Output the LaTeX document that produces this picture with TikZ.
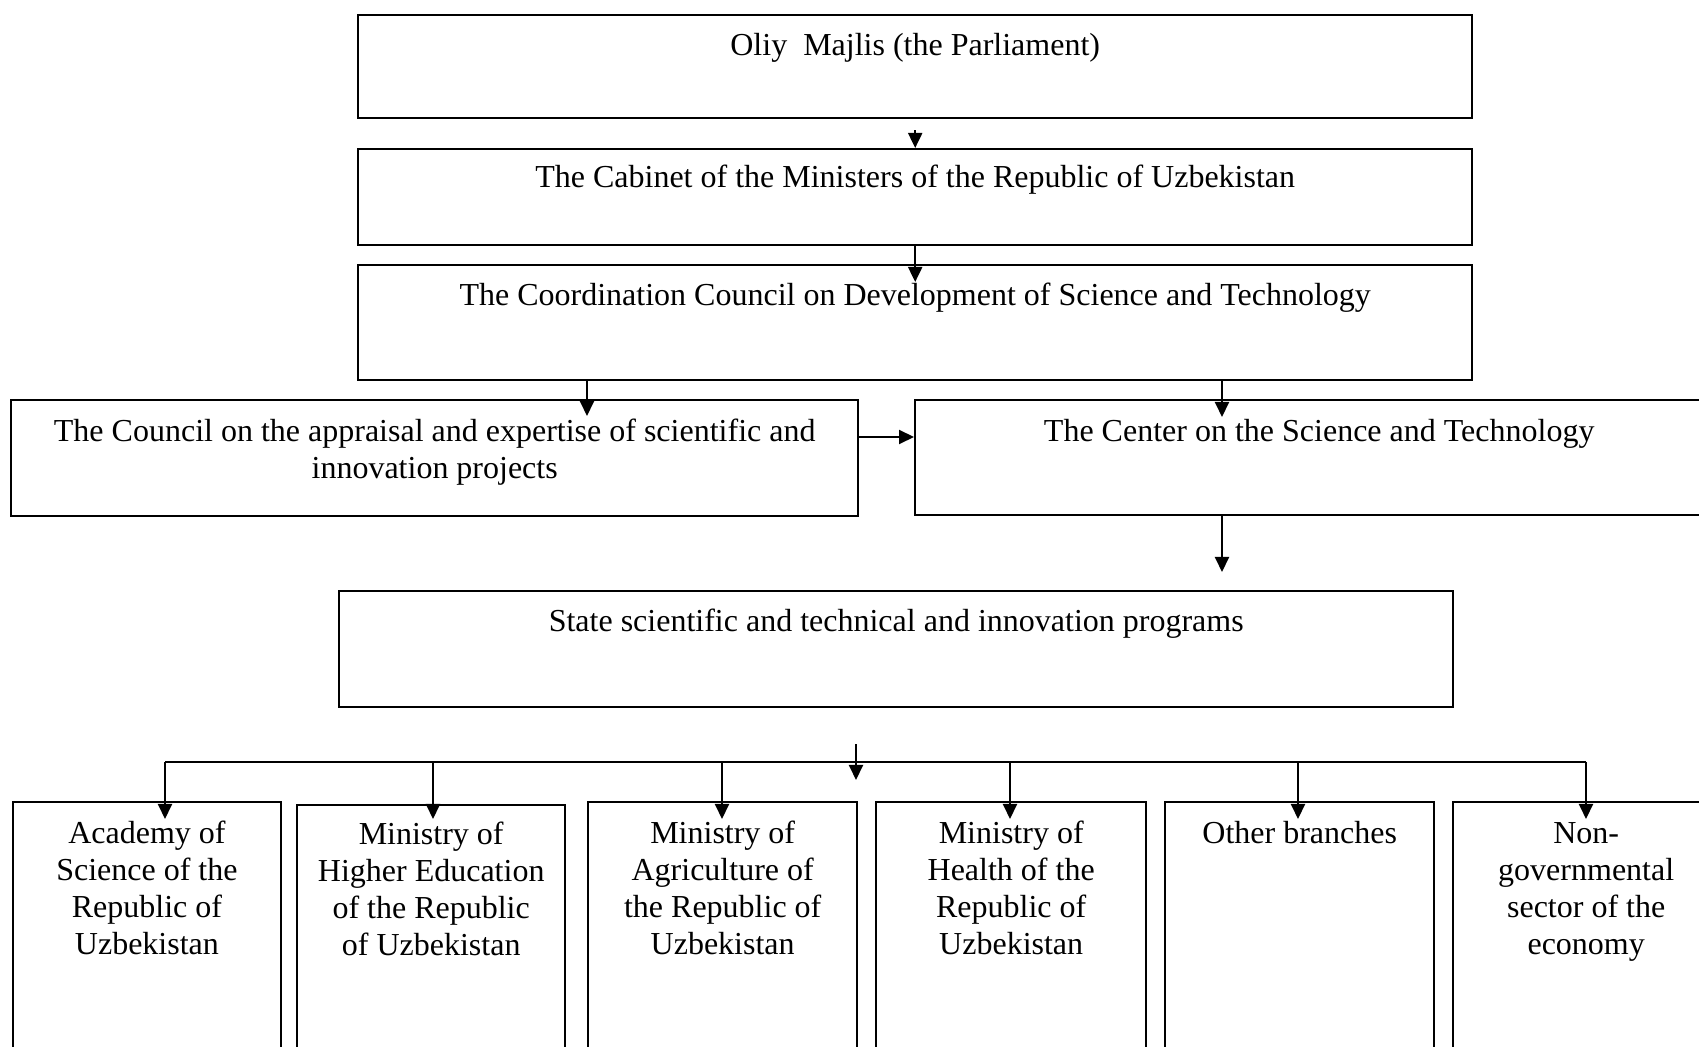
\documentclass[tikz,border=0pt]{standalone}
\usepackage{fontspec}
\setmainfont{Liberation Serif}
\usetikzlibrary{arrows.meta}

\tikzset{
  box/.style={draw, line width=1.2pt, inner sep=0pt, anchor=north west, align=center,
    font=\fontsize{16pt}{18.5pt}\selectfont, text height=20pt},
  leaf/.style={box, minimum width=134.5pt, text height=76pt, text depth=74pt},
  arr/.style={line width=1pt, -{Triangle[length=7.5pt,width=7pt]}},
  bus/.style={line width=1pt},
}

\begin{document}
\begin{tikzpicture}[x=0.5pt, y=-0.5pt]
\clip (0,0) rectangle (1699,1047);

\node[box, minimum width=557pt, text depth=31.5pt] (oliy) at (357,14) {Oliy~ Majlis (the Parliament)};
\node[box, minimum width=557pt, text height=19pt, text depth=29pt] (cab) at (357,148) {The Cabinet of the Ministers of the Republic of Uzbekistan};
\node[box, minimum width=557pt, text depth=37.5pt] (coord) at (357,264) {The Coordination Council on Development of Science and Technology};

\node[box, minimum width=423.5pt, text height=39pt, text depth=19pt] (council) at (10,399)
  {The Council on the appraisal and expertise of scientific and\\ innovation projects};
\node[box, minimum width=404pt, text height=20.5pt, text depth=37pt] (center) at (914,399)
  {The Center on the Science and Technology};

\node[box, minimum width=557pt, text depth=38pt] (state) at (338,590) {State scientific and technical and innovation programs};

\node[leaf, minimum width=134.25pt] (acad) at (11.5,801) {Academy of\\ Science of the\\ Republic of\\ Uzbekistan};
\node[leaf, minimum width=134pt, text height=75pt, text depth=75pt] (mhe) at (296,804) {Ministry of\\ Higher Education\\ of the Republic\\ of Uzbekistan};
\node[leaf] (agr) at (587,801) {Ministry of\\ Agriculture of\\ the Republic of\\ Uzbekistan};
\node[leaf, minimum width=135pt] (hlth) at (875,801) {Ministry of\\ Health of the\\ Republic of\\ Uzbekistan};
\node[leaf, text height=20.5pt, text depth=129.5pt] (oth) at (1164,801) {Other branches};
\node[leaf, minimum width=133pt] (ngo) at (1452,801) {Non-\\ governmental\\ sector of the\\ economy};

\coordinate (lc) at (587,0);
\coordinate (rc) at (1222,0);
\coordinate (mid) at (0,437);
\coordinate (hub) at (856,762);
\coordinate (k1) at (165,762);
\coordinate (k2) at (433,762);
\coordinate (k3) at (722,762);
\coordinate (k4) at (1010,762);
\coordinate (k5) at (1298,762);
\coordinate (k6) at (1586,762);

\draw[arr, shorten <=5.5pt] (oliy.south) -- (cab.north);
\draw[arr, shorten >=-9pt] (cab.south) -- (coord.north);
\draw[arr, shorten >=-8.5pt] (coord.south -| lc) -- (council.north -| lc);
\draw[arr, shorten >=-9pt] (coord.south -| rc) -- (center.north -| rc);
\draw[arr] (council.east |- mid) -- (center.west |- mid);
\draw[arr, shorten >=9pt] (center.south -| rc) -- (state.north -| rc);

\draw[arr, shorten <=18pt, shorten >=-9pt] (state.south -| hub) -- (hub);
\draw[bus] (k1) -- (k6);
\draw[arr, shorten >=-9pt] (k1) -- (acad.north -| k1);
\draw[arr, shorten >=-7.5pt] (k2) -- (mhe.north -| k2);
\draw[arr, shorten >=-9pt] (k3) -- (agr.north -| k3);
\draw[arr, shorten >=-9pt] (k4) -- (hlth.north -| k4);
\draw[arr, shorten >=-9pt] (k5) -- (oth.north -| k5);
\draw[arr, shorten >=-9pt] (k6) -- (ngo.north -| k6);
\end{tikzpicture}
\end{document}
